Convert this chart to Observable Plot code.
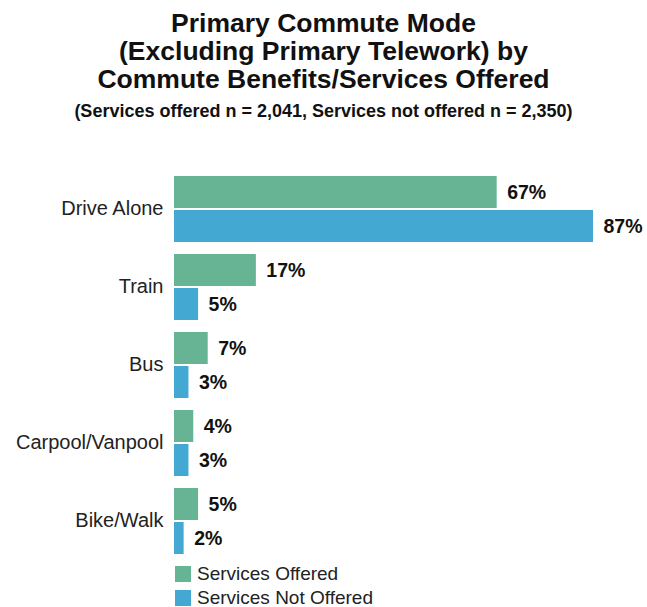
<!DOCTYPE html>
<html>
<head>
<meta charset="utf-8">
<script src="https://cdn.jsdelivr.net/npm/d3@7"></script>
<script src="https://cdn.jsdelivr.net/npm/@observablehq/plot@0.6"></script>
<style>
  body { margin: 0; background: #fff; font-family: "Liberation Sans", Arial, sans-serif; }
  #wrap { position: relative; width: 647px; height: 607px; overflow: hidden; }
  #title { position: absolute; left: 0; top: 9px; width: 647px; text-align: center; font-weight: bold; font-size: 26.5px; line-height: 28px; color: #111; }
  #subtitle { position: absolute; left: 0; top: 101px; width: 647px; text-align: center; font-weight: bold; font-size: 18px; color: #111; }
  #chart { position: absolute; left: 0; top: 130px; }
  #legend { position: absolute; left: 175px; top: 562px; font-size: 19px; color: #222; }
  .li { display: flex; align-items: center; height: 24px; }
  .sw { width: 16px; height: 16px; margin-right: 6px; }
</style>
</head>
<body>
<div id="wrap">
  <div id="title">Primary Commute Mode<br>(Excluding Primary Telework) by<br>Commute Benefits/Services Offered</div>
  <div id="subtitle">(Services offered n = 2,041, Services not offered n = 2,350)</div>
  <div id="chart"></div>
  <div id="legend"></div>
</div>
<script>
const categories = ["Drive Alone", "Train", "Bus", "Carpool/Vanpool", "Bike/Walk"];
const series = ["Services Offered", "Services Not Offered"];
const offered = [67, 17, 7, 4, 5];
const notOffered = [87, 5, 3, 3, 2];
const colors = ["#66b493", "#43a9d3"];

const data = categories.flatMap((c, i) => [
  {category: c, series: series[0], value: offered[i]},
  {category: c, series: series[1], value: notOffered[i]}
]);

const chart = Plot.plot({
  width: 647,
  height: 433,
  marginTop: 44,
  marginBottom: 7,
  marginLeft: 174,
  marginRight: 54,
  style: {fontFamily: '"Liberation Sans", Arial, sans-serif', fontSize: "20px", color: "#222"},
  x: {domain: [0, 87], axis: null},
  y: {domain: series, axis: null, paddingInner: 0.07, paddingOuter: 0},
  fy: {domain: categories, paddingInner: 0.14, paddingOuter: 0, axis: "left", label: null, tickSize: 0, tickPadding: 11},
  color: {domain: series, range: colors},
  marks: [
    Plot.barX(data, {x: "value", y: "series", fy: "category", fill: "series"}),
    Plot.text(data, {x: "value", y: "series", fy: "category", text: d => d.value + "%", dx: 10, textAnchor: "start", fontWeight: "bold", fontSize: 19.5, fill: "#111"})
  ]
});
document.getElementById("chart").appendChild(chart);

const legend = document.getElementById("legend");
series.forEach((s, i) => {
  const row = document.createElement("div");
  row.className = "li";
  row.innerHTML = `<div class="sw" style="background:${colors[i]}"></div><span>${s}</span>`;
  legend.appendChild(row);
});
</script>
</body>
</html>
